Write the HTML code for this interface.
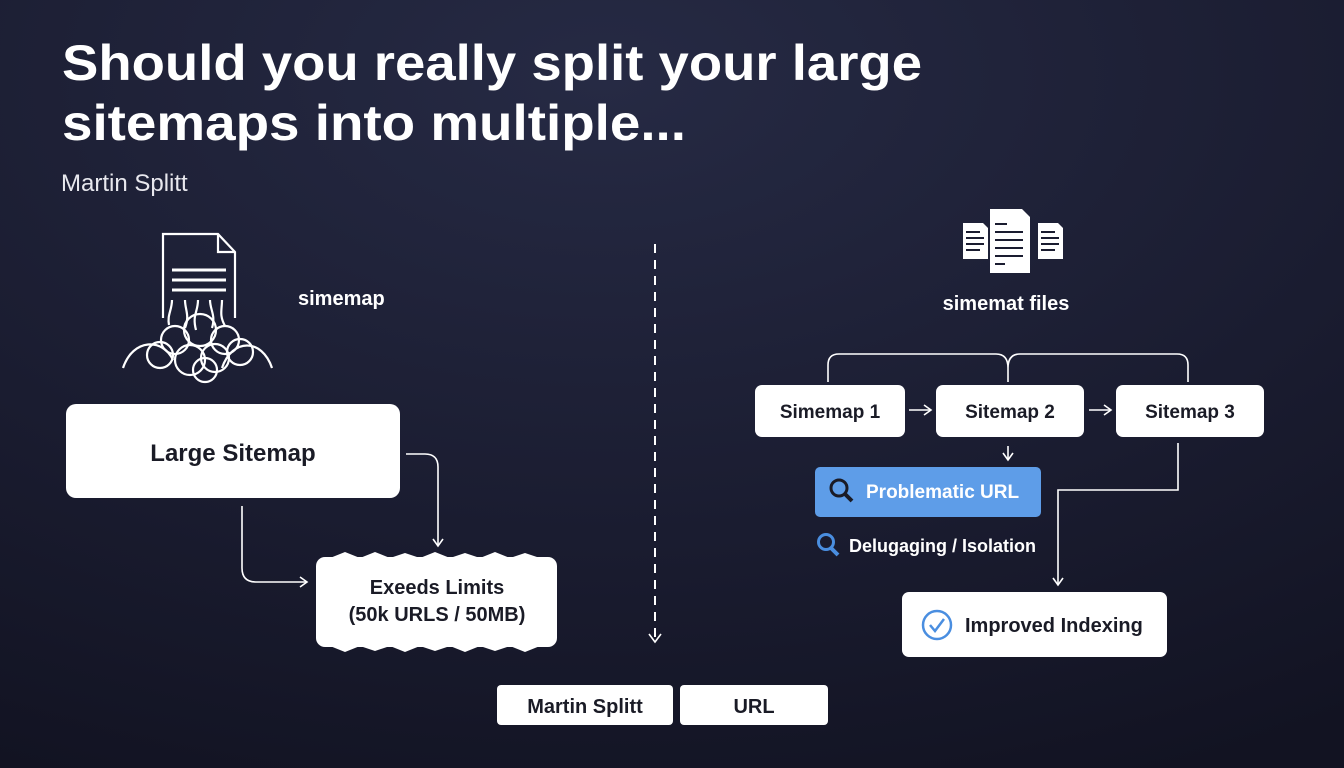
<!DOCTYPE html>
<html><head><meta charset="utf-8"><style>
html,body{margin:0;padding:0;width:1344px;height:768px;overflow:hidden;background:#181a2c}
svg{display:block}
text{font-family:"Liberation Sans",sans-serif}
</style></head><body>
<svg width="1344" height="768" viewBox="0 0 1344 768">
<defs>
<radialGradient id="bg" cx="0.45" cy="0.1" r="1">
<stop offset="0" stop-color="#262a44"/><stop offset="0.6" stop-color="#1a1c30"/><stop offset="1" stop-color="#121322"/>
</radialGradient>
<marker id="ar" markerWidth="12" markerHeight="12" refX="9" refY="6" orient="auto" markerUnits="userSpaceOnUse">
<path d="M2,1 L9,6 L2,11" fill="none" stroke="#fff" stroke-width="1.6"/>
</marker>
</defs>
<rect width="1344" height="768" fill="url(#bg)"/>
<text x="62" y="80" font-size="50" font-weight="bold" fill="#fff" textLength="860" lengthAdjust="spacingAndGlyphs">Should you really split your large</text>
<text x="62" y="140" font-size="50" font-weight="bold" fill="#fff" textLength="624" lengthAdjust="spacingAndGlyphs">sitemaps into multiple...</text>
<text x="61" y="191" font-size="24" fill="#e8e8ee">Martin Splitt</text>

<!-- left icon -->
<g fill="none" stroke="#fff" stroke-width="2.2">
<path d="M163,318 V234 H218 L235,252 V318"/>
<path d="M218,234 V252 H235"/>
<path d="M172,270 H226 M172,280 H226 M172,290 H226" stroke-width="3"/>
<path d="M172,300 c0,10 -5,15 -3,25 M185,300 c0,10 5,15 0,28 M198,300 c0,12 -6,15 -2,30 M210,300 c0,10 6,15 2,28 M222,300 c0,10 -3,15 3,26"/>
<circle cx="175" cy="340" r="14"/><circle cx="200" cy="330" r="16"/><circle cx="225" cy="340" r="14"/>
<circle cx="160" cy="355" r="13"/><circle cx="190" cy="360" r="15"/><circle cx="215" cy="358" r="14"/><circle cx="240" cy="352" r="13"/>
<path d="M123,368 c10,-30 40,-30 50,-8 M222,368 c10,-30 40,-30 50,0"/>
<circle cx="205" cy="370" r="12"/>
</g>
<text x="298" y="305" font-size="20" font-weight="bold" fill="#fff">simemap</text>

<rect x="66" y="404" width="334" height="94" rx="10" fill="#fff"/>
<text x="233" y="461" font-size="24" font-weight="bold" fill="#1a1b26" text-anchor="middle">Large Sitemap</text>

<g fill="#fff">
<rect x="316" y="557" width="241" height="90" rx="9"/>
<path d="M330,558 L345,552 L360,558 L375,552 L390,558 L405,553 L420,558 L435,552 L450,558 L465,553 L480,558 L495,552 L510,558 L525,553 L540,558 Z"/>
<path d="M330,646 L345,652 L360,646 L375,651 L390,646 L405,652 L420,646 L435,651 L450,646 L465,652 L480,646 L495,651 L510,646 L525,652 L540,646 Z"/>
</g>
<text x="437" y="594" font-size="20" font-weight="bold" fill="#1a1b26" text-anchor="middle">Exeeds Limits</text>
<text x="437" y="621" font-size="20" font-weight="bold" fill="#1a1b26" text-anchor="middle">(50k URLS / 50MB)</text>

<g fill="none" stroke="#fff" stroke-width="1.6">
<path d="M406,454 H425 q13,0 13,13 V546" marker-end="url(#ar)"/>
<path d="M242,506 V568 q0,14 14,14 H307" marker-end="url(#ar)"/>
<path d="M655,244 V638" stroke-dasharray="9,7" stroke-width="2"/>
<path d="M649,634 L655,642 L661,634"/>
</g>

<rect x="497" y="685" width="176" height="40" rx="4" fill="#fff"/>
<text x="585" y="713" font-size="20" font-weight="bold" fill="#1a1b26" text-anchor="middle">Martin Splitt</text>
<rect x="680" y="685" width="148" height="40" rx="4" fill="#fff"/>
<text x="754" y="713" font-size="20" font-weight="bold" fill="#1a1b26" text-anchor="middle">URL</text>

<!-- right icon -->
<g fill="#fff">
<path d="M963,223 h20 l5,5 v31 h-25 z"/>
<path d="M1038,223 h20 l5,5 v31 h-25 z"/>
<path d="M990,209 h32 l8,8 v56 h-40 z"/>
</g>
<g stroke="#1a1c30" stroke-width="2">
<path d="M966,232 h14 M966,238 h18 M966,244 h18 M966,250 h14 M1041,232 h14 M1041,238 h18 M1041,244 h18 M1041,250 h14"/>
<path d="M995,224 h12 M995,232 h28 M995,240 h28 M995,248 h28 M995,256 h28 M995,264 h10"/>
</g>
<text x="1006" y="310" font-size="20" font-weight="bold" fill="#fff" text-anchor="middle">simemat files</text>

<g fill="none" stroke="#fff" stroke-width="1.6">
<path d="M828,382 V365 q0,-11 11,-11 H996 q12,0 12,14 V382 M1008,368 q0,-14 12,-14 H1177 q11,0 11,11 V382"/>
<path d="M909,410 H931" marker-end="url(#ar)"/>
<path d="M1089,410 H1111" marker-end="url(#ar)"/>
<path d="M1008,446 V460" marker-end="url(#ar)"/>
<path d="M1178,443 V490 H1058 V585" marker-end="url(#ar)"/>
</g>
<rect x="755" y="385" width="150" height="52" rx="7" fill="#fff"/>
<text x="830" y="418" font-size="19" font-weight="bold" fill="#1a1b26" text-anchor="middle">Simemap 1</text>
<rect x="936" y="385" width="148" height="52" rx="7" fill="#fff"/>
<text x="1010" y="418" font-size="19" font-weight="bold" fill="#1a1b26" text-anchor="middle">Sitemap 2</text>
<rect x="1116" y="385" width="148" height="52" rx="7" fill="#fff"/>
<text x="1190" y="418" font-size="19" font-weight="bold" fill="#1a1b26" text-anchor="middle">Sitemap 3</text>

<rect x="815" y="467" width="226" height="50" rx="5" fill="#5e9de8"/>
<circle cx="839" cy="488" r="8" fill="none" stroke="#1a1b26" stroke-width="3"/>
<path d="M845,494 L852,501" stroke="#1a1b26" stroke-width="4"/>
<text x="866" y="498" font-size="19" font-weight="bold" fill="#fff">Problematic URL</text>

<circle cx="826" cy="542" r="7.5" fill="none" stroke="#4a8ee0" stroke-width="3"/>
<path d="M831,548 L838,555" stroke="#4a8ee0" stroke-width="4"/>
<text x="849" y="552" font-size="18" font-weight="bold" fill="#fff">Delugaging / Isolation</text>

<rect x="902" y="592" width="265" height="65" rx="7" fill="#fff"/>
<circle cx="937" cy="625" r="14" fill="none" stroke="#4a8ee0" stroke-width="2.5"/>
<path d="M930,625 L935,631 L944,619" fill="none" stroke="#4a8ee0" stroke-width="2.5"/>
<text x="965" y="632" font-size="20" font-weight="bold" fill="#1a1b26">Improved Indexing</text>
</svg>
</body></html>
